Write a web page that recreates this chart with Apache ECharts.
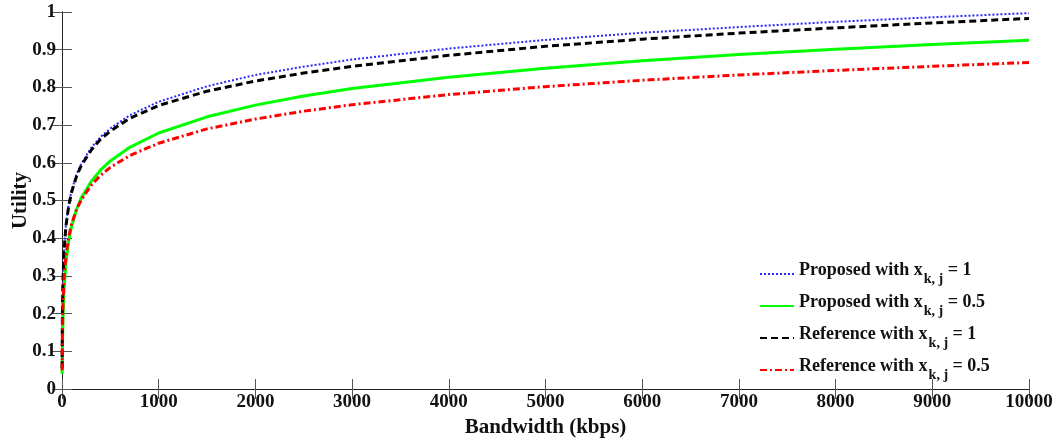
<!DOCTYPE html>
<html>
<head>
<meta charset="utf-8">
<script src="https://cdn.jsdelivr.net/npm/echarts@6/dist/echarts.min.js"></script>
<style>
html,body{margin:0;padding:0;background:#fff;}
#chart{width:1057px;height:439px;}
</style>
</head>
<body>
<div id="chart"></div>
<script>
// Bandwidth sample points (kbps)
var bandwidth = [1, 3, 5, 10, 20, 40, 70, 100, 150, 200, 300, 400, 500, 700, 1000, 1500, 2000, 2500, 3000, 4000, 5000, 6000, 7000, 8000, 9000, 10000];
// Utility values
var proposed1  = [0.057, 0.169, 0.222, 0.292, 0.363, 0.434, 0.491, 0.527, 0.569, 0.598, 0.639, 0.669, 0.691, 0.726, 0.762, 0.803, 0.833, 0.855, 0.874, 0.903, 0.926, 0.945, 0.960, 0.974, 0.986, 0.997];
var proposed05 = [0.040, 0.057, 0.112, 0.186, 0.260, 0.335, 0.394, 0.433, 0.476, 0.507, 0.550, 0.581, 0.605, 0.641, 0.679, 0.722, 0.753, 0.777, 0.797, 0.827, 0.851, 0.871, 0.887, 0.901, 0.914, 0.925];
var reference1 = [0.055, 0.167, 0.220, 0.289, 0.360, 0.431, 0.487, 0.523, 0.564, 0.593, 0.633, 0.663, 0.684, 0.718, 0.752, 0.790, 0.817, 0.838, 0.856, 0.885, 0.909, 0.928, 0.944, 0.958, 0.971, 0.983];
var reference05= [0.050, 0.112, 0.159, 0.224, 0.288, 0.353, 0.405, 0.438, 0.476, 0.502, 0.540, 0.567, 0.588, 0.619, 0.652, 0.690, 0.716, 0.737, 0.754, 0.781, 0.802, 0.819, 0.833, 0.845, 0.856, 0.866];

var seriesNames = ['Proposed with x = 1', 'Proposed with x = 0.5', 'Reference with x = 1', 'Reference with x = 0.5'];
var legendMain = ['Proposed with x', 'Proposed with x', 'Reference with x', 'Reference with x'];
var legendValue = [' = 1', ' = 0.5', ' = 1', ' = 0.5'];
var legendSub = 'k, j';

function pairs(ys) { return bandwidth.map(function (x, i) { return [x, ys[i]]; }); }

var FONT = '"Liberation Serif", "Times New Roman", serif';
var chart = echarts.init(document.getElementById('chart'), null, {renderer: 'canvas'});

var commonAxis = {
  axisLine: {show: true, lineStyle: {color: '#222', width: 1}},
  axisTick: {show: true, inside: true, length: 10, lineStyle: {color: '#555', width: 1}},
  splitLine: {show: false}
};

var option = {
  backgroundColor: '#ffffff',
  animation: false,
  grid: {left: 62, right: 28, top: 12, bottom: 50, containLabel: false, outerBoundsMode: 'none'},
  xAxis: [
    Object.assign({}, commonAxis, {
      type: 'value', min: 0, max: 10000, interval: 1000, position: 'bottom',
      name: 'Bandwidth (kbps)', nameLocation: 'middle', nameGap: 24,
      nameTextStyle: {fontFamily: FONT, fontWeight: 'bold', fontSize: 21, color: '#111'},
      axisLabel: {fontFamily: FONT, fontWeight: 'bold', fontSize: 19, color: '#111', margin: 4,
        formatter: function (v) { return String(v); }}
    }),
    Object.assign({}, commonAxis, {
      type: 'value', min: 0, max: 10000, interval: 1000, position: 'top',
      axisLabel: {show: false}
    })
  ],
  yAxis: [
    Object.assign({}, commonAxis, {
      type: 'value', min: 0, max: 1, interval: 0.1, position: 'left',
      name: 'Utility', nameLocation: 'middle', nameGap: 31, nameMoveOverlap: false,
      nameTextStyle: {fontFamily: FONT, fontWeight: 'bold', fontSize: 21, color: '#111'},
      axisLabel: {fontFamily: FONT, fontWeight: 'bold', fontSize: 19, color: '#111', margin: 6}
    }),
    Object.assign({}, commonAxis, {
      type: 'value', min: 0, max: 1, interval: 0.1, position: 'right',
      axisLabel: {show: false}
    })
  ],
  legend: {
    orient: 'vertical',
    left: 754, top: 256,
    itemWidth: 34, itemHeight: 12, itemGap: 7,
    itemStyle: {opacity: 0},
    data: seriesNames,
    formatter: function (name) {
      var i = seriesNames.indexOf(name);
      return '{m|' + legendMain[i] + '}{s|' + legendSub + '}{m|' + legendValue[i] + '}';
    },
    textStyle: {
      fontFamily: FONT, fontWeight: 'bold', fontSize: 17, color: '#111',
      rich: {
        m: {fontFamily: FONT, fontWeight: 'bold', fontSize: 18, color: '#111', padding: [0, 0, 8, 0]},
        s: {fontFamily: FONT, fontWeight: 'bold', fontSize: 14, color: '#111', padding: [10, 0, 0, 1]}
      }
    }
  },
  series: [
    {name: seriesNames[0], type: 'line', data: pairs(proposed1), showSymbol: false, symbol: 'none', smooth: false,
     lineStyle: {color: '#2a2aff', width: 2, type: [2, 2]}, itemStyle: {color: '#2a2aff'}, z: 2},
    {name: seriesNames[1], type: 'line', data: pairs(proposed05), showSymbol: false, symbol: 'none',
     lineStyle: {color: '#00ff00', width: 3, type: 'solid'}, itemStyle: {color: '#00ff00'}, z: 3},
    {name: seriesNames[2], type: 'line', data: pairs(reference1), showSymbol: false, symbol: 'none',
     lineStyle: {color: '#000000', width: 3, type: [7, 4]}, itemStyle: {color: '#000000'}, z: 4},
    {name: seriesNames[3], type: 'line', data: pairs(reference05), showSymbol: false, symbol: 'none',
     lineStyle: {color: '#ff0000', width: 3, type: [7, 3, 2, 3]}, itemStyle: {color: '#ff0000'}, z: 5}
  ]
};
chart.setOption(option);
</script>
</body>
</html>
